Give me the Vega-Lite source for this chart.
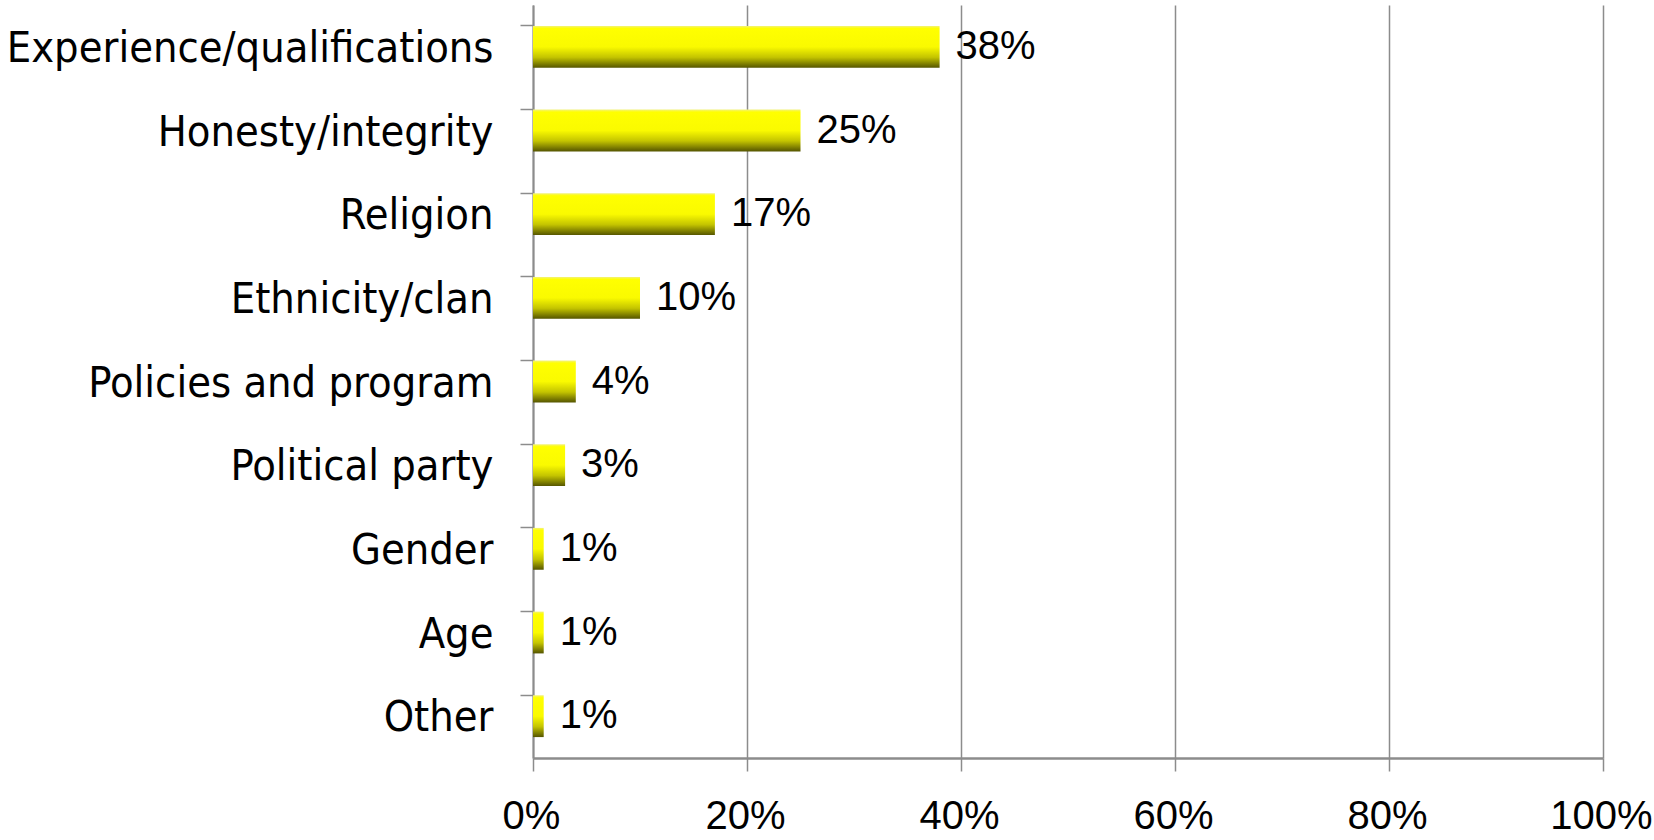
{
  "$schema": "https://vega.github.io/schema/vega-lite/v6.json",
  "autosize": {"type": "none"},
  "padding": {"left": 533, "top": 5, "right": 51, "bottom": 82},
  "width": 1070,
  "height": 753,
  "background": "white",
  "config": {"view": {"stroke": null}},
  "data": {
    "values": [
      {"factor": "Experience/qualifications", "share": 0.38},
      {"factor": "Honesty/integrity", "share": 0.25},
      {"factor": "Religion", "share": 0.17},
      {"factor": "Ethnicity/clan", "share": 0.10},
      {"factor": "Policies and program", "share": 0.04},
      {"factor": "Political party", "share": 0.03},
      {"factor": "Gender", "share": 0.01},
      {"factor": "Age", "share": 0.01},
      {"factor": "Other", "share": 0.01}
    ]
  },
  "encoding": {
    "y": {
      "field": "factor",
      "type": "nominal",
      "sort": null,
      "scale": {"paddingInner": 0.5, "paddingOuter": 0.25},
      "axis": {
        "title": null,
        "bandPosition": 0,
        "labelFont": "DejaVu Sans Condensed",
        "labelFontSize": 43,
        "labelColor": "#000000",
        "labelPadding": 27,
        "labelOffset": 2,
        "tickSize": 13,
        "tickColor": "#8c8c8c",
        "tickWidth": 1.5,
        "domainColor": "#8c8c8c",
        "domainWidth": 2,
        "grid": false,
        "labelLimit": 600
      }
    },
    "x": {
      "field": "share",
      "type": "quantitative",
      "scale": {"domain": [0, 1], "nice": false},
      "axis": {
        "title": null,
        "values": [0, 0.2, 0.4, 0.6, 0.8, 1],
        "format": ".0%",
        "labelFont": "Liberation Sans",
        "labelFontSize": 40,
        "labelOffset": -2,
        "labelColor": "#000000",
        "labelPadding": 25,
        "tickSize": 13,
        "tickColor": "#8c8c8c",
        "tickWidth": 1.5,
        "domainColor": "#8c8c8c",
        "domainWidth": 2.5,
        "grid": true,
        "gridColor": "#8c8c8c",
        "gridWidth": 1.5,
        "labelFlush": false
      }
    }
  },
  "layer": [
    {
      "mark": {
        "type": "bar",
        "color": {
          "gradient": "linear",
          "x1": 0, "y1": 0, "x2": 0, "y2": 1,
          "stops": [
            {"offset": 0, "color": "#f2f27a"},
            {"offset": 0.06, "color": "#ffff00"},
            {"offset": 0.5, "color": "#fafa00"},
            {"offset": 0.75, "color": "#c4c400"},
            {"offset": 1, "color": "#555500"}
          ]
        }
      }
    },
    {
      "mark": {
        "type": "text",
        "align": "left",
        "baseline": "middle",
        "dx": 16,
        "font": "Liberation Sans",
        "fontSize": 40,
        "color": "#000000"
      },
      "encoding": {
        "text": {"field": "share", "type": "quantitative", "format": ".0%"}
      }
    }
  ]
}
